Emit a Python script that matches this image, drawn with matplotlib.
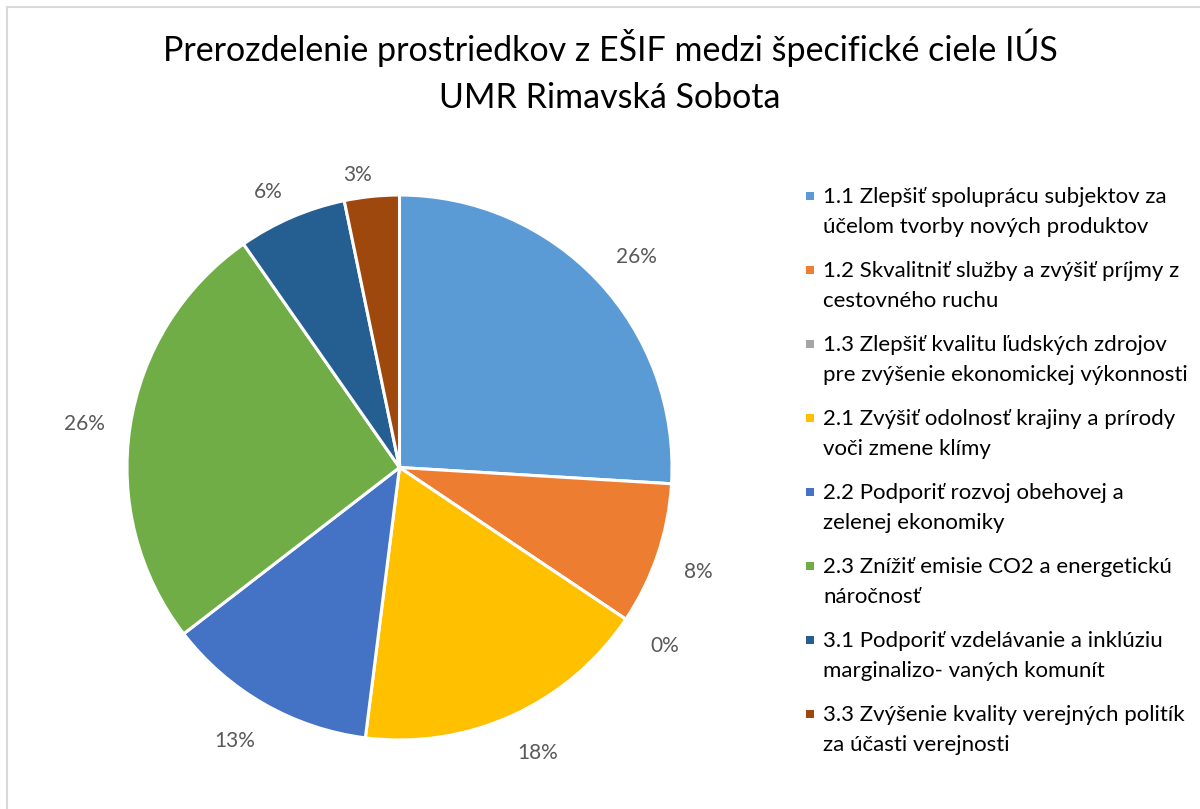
import matplotlib
matplotlib.use("Agg")
import numpy as np
import matplotlib.pyplot as plt
from matplotlib.patches import Rectangle
from matplotlib.lines import Line2D

# ---- data ----
categories = [
    "1.1 Zlepšiť spoluprácu subjektov za\núčelom tvorby nových produktov",
    "1.2 Skvalitniť služby a zvýšiť príjmy z\ncestovného ruchu",
    "1.3 Zlepšiť kvalitu ľudských zdrojov\npre zvýšenie ekonomickej výkonnosti",
    "2.1 Zvýšiť odolnosť krajiny a prírody\nvoči zmene klímy",
    "2.2 Podporiť rozvoj obehovej a\nzelenej ekonomiky",
    "2.3 Znížiť emisie CO2 a energetickú\nnáročnosť",
    "3.1 Podporiť vzdelávanie a inklúziu\nmarginalizo- vaných komunít",
    "3.3 Zvýšenie kvality verejných politík\nza účasti verejnosti",
]
shares = [25.95, 8.45, 0.0, 17.6, 12.55, 25.75, 6.45, 3.25]
colors = ["#5B9BD5", "#ED7D31", "#A5A5A5", "#FFC000",
          "#4472C4", "#70AD47", "#255E91", "#9E480E"]
title_lines = ["Prerozdelenie prostriedkov z EŠIF medzi špecifické ciele IÚS",
               "UMR Rimavská Sobota"]

W, H = 1200, 809
FONT = ["Lato", "DejaVu Sans"]
plt.rcParams["font.family"] = FONT

fig = plt.figure(figsize=(W / 100, H / 100), dpi=100)
fig.patch.set_facecolor("white")

def px(x, y):
    return x / W, 1 - y / H

# chart frame (light gray border)
fig.add_artist(Line2D([7 / W, 1.01], [1 - 7 / H, 1 - 7 / H], color="#D9D9D9",
                      lw=1.5, transform=fig.transFigure))
fig.add_artist(Line2D([7 / W, 7 / W], [1 - 7 / H, -0.01], color="#D9D9D9",
                      lw=1.5, transform=fig.transFigure))

# pie axes
cx, cy, r = 399.5, 467.5, 272.5
ax = fig.add_axes([(cx - r) / W, 1 - (cy + r) / H, 2 * r / W, 2 * r / H])
wedges, texts, autotexts = ax.pie(
    shares, colors=colors, startangle=90, counterclock=False,
    autopct="%.0f%%", pctdistance=1.15,
    wedgeprops=dict(edgecolor="white", linewidth=2.2),
    textprops=dict(color="#595959", fontsize=15),
    radius=1.0,
)
ax.set_xlim(-1, 1)
ax.set_ylim(-1, 1)
ax.set_aspect("equal")
ax.axis("off")

# "outside end" placement of data labels: box edge at a fixed gap from the rim
fig.canvas.draw()
renderer = fig.canvas.get_renderer()
gap, pad_x, pad_y, spread, yshift = 14, 9, 0, 12, -5
for w, t in zip(wedges, autotexts):
    mid = np.deg2rad((w.theta1 + w.theta2) / 2)
    bb = t.get_window_extent(renderer)
    c, s = np.cos(mid), np.sin(mid)
    d = r + gap + abs(c) * (bb.width / 2 + pad_x) + abs(s) * (bb.height / 2 + pad_y)
    xoff = np.sign(c) * spread * abs(s)
    t.set_position(((d * c + xoff) / r, (d * s + yshift) / r))

# title
fig.text(px(610, 0)[0], px(0, 61)[1], title_lines[0], ha="center",
         va="baseline", fontsize=24.5, color="black")
fig.text(px(610, 0)[0], px(0, 108)[1], title_lines[1], ha="center",
         va="baseline", fontsize=24.5, color="black")

# legend
for k, (lab, col) in enumerate(zip(categories, colors)):
    base = 203 + 74 * k
    sq = 8
    fig.add_artist(Rectangle(px(806, base - 3), sq / W, sq / H,
                             transform=fig.transFigure, facecolor=col,
                             edgecolor="none"))
    l1, l2 = lab.split("\n")
    fig.text(*px(823, base), l1, ha="left", va="baseline", fontsize=16, color="black")
    fig.text(*px(823, base + 30), l2, ha="left", va="baseline", fontsize=16, color="black")

fig.savefig("out.png", dpi=100, facecolor="white")
